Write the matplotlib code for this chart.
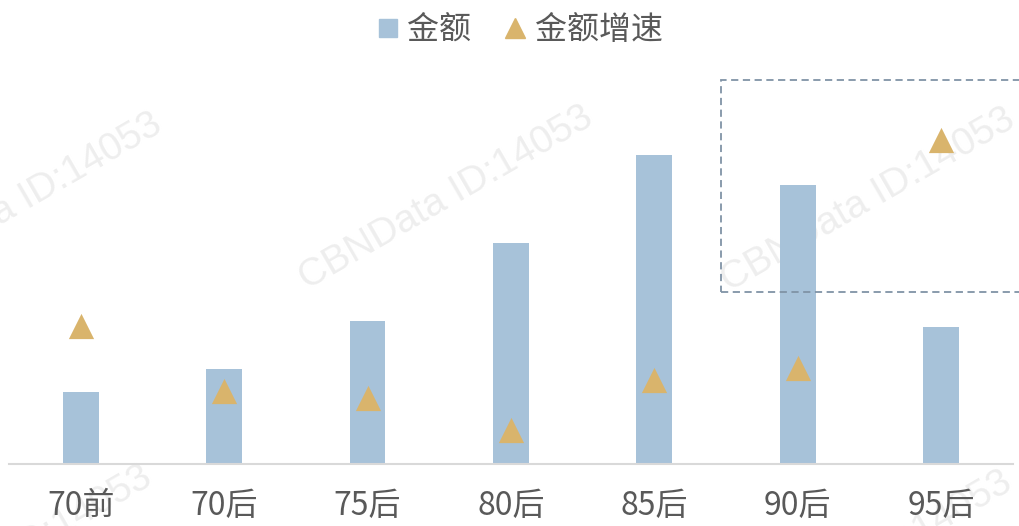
import matplotlib.pyplot as plt
from matplotlib.patches import Rectangle
from matplotlib.lines import Line2D

plt.rcParams['font.family'] = ['Noto Sans CJK SC', 'DejaVu Sans']

categories = ['70前', '70后', '75后', '80后', '85后', '90后', '95后']
amount = [72, 95, 143, 221, 309, 279, 137]
growth = [138, 73, 66, 34, 84, 96, 324]

bar_color = '#a7c2d9'
tri_color = '#d9b46c'
text_color = '#595959'

fig = plt.figure(figsize=(10.2, 5.26), dpi=100)
ax = fig.add_axes([9 / 1020, 62 / 526, 1004 / 1020, 404 / 526])

x = range(len(categories))
ax.bar(x, amount, width=0.25, color=bar_color, zorder=2)
ax.scatter(x, growth, marker='^', s=330, color=tri_color, linewidths=0, zorder=3)

ax.set_xlim(-0.5, len(categories) - 0.5)
ax.set_ylim(0, 404)
ax.set_yticks([])
ax.set_xticks(list(x))
ax.set_xticklabels(categories, fontsize=23, color=text_color)
ax.tick_params(axis='x', length=0, pad=19)
for side in ['top', 'right', 'left']:
    ax.spines[side].set_visible(False)
ax.spines['bottom'].set_color('#d9d9d9')
ax.spines['bottom'].set_linewidth(1.5)

# dashed highlight box
box = Rectangle((721 / 1020, (526 - 292) / 526), 320 / 1020, 212 / 526,
                transform=fig.transFigure, fill=False, edgecolor='#8093a6',
                linestyle=(0, (4, 2.5)), linewidth=1.3, zorder=4)
fig.patches.append(box)

# watermarks (behind the bars)
for wx, wy in [(15, 205), (446, 198), (868, 200), (5, 558), (865, 563)]:
    ax.text(wx / 1020, 1 - wy / 526, 'CBNData ID:14053', rotation=30,
            transform=fig.transFigure, fontsize=28, color='#eeeeee',
            ha='center', va='center', family='Liberation Sans',
            zorder=1, clip_on=False)

handles = [
    Line2D([], [], marker='s', linestyle='none', color=bar_color, markersize=13),
    Line2D([], [], marker='^', linestyle='none', color=tri_color, markersize=15),
]
fig.legend(handles, ['金额', '金额增速'], loc='center', bbox_to_anchor=(0.507, 1 - 30 / 526),
           ncol=2, frameon=False, fontsize=23, labelcolor=text_color,
           handletextpad=0.1, columnspacing=0.9, handlelength=1.0)

fig.savefig('out.png', dpi=100)
